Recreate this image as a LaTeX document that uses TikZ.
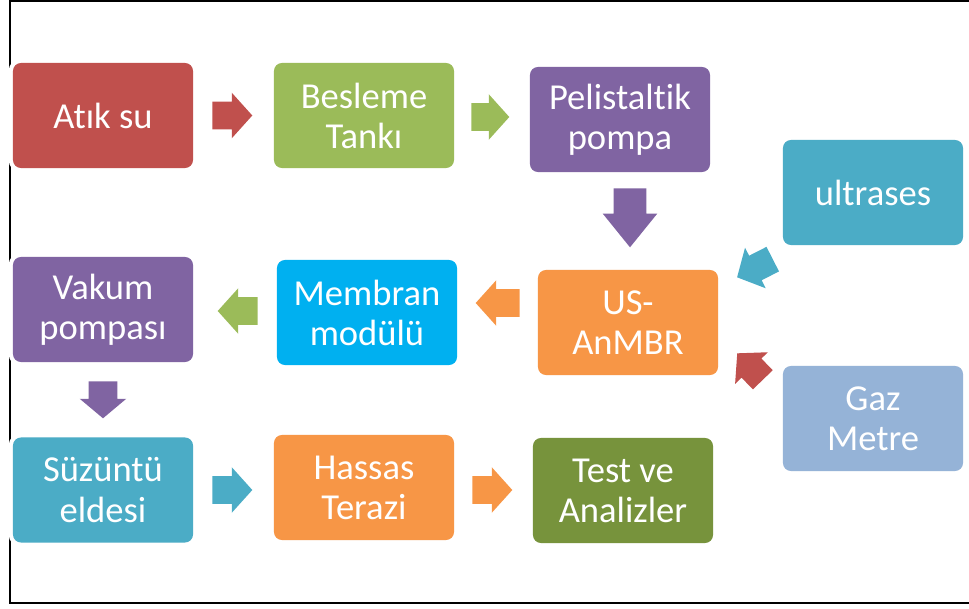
\documentclass[tikz,border=0pt]{standalone}
\usepackage{fontspec}
\setmainfont{Carlito}[Ligatures=NoCommon]
\usetikzlibrary{shapes.arrows}
\definecolor{cred}{HTML}{C0504D}
\definecolor{cgreen}{HTML}{9BBB59}
\definecolor{cpurple}{HTML}{8064A2}
\definecolor{cteal}{HTML}{4BACC6}
\definecolor{corange}{HTML}{F79646}
\definecolor{ccyan}{HTML}{00B0F0}
\definecolor{cblue}{HTML}{95B3D7}
\definecolor{colive}{HTML}{77933C}
\begin{document}
\begin{tikzpicture}[x=0.025cm, y=-0.025cm,
            box/.style={rectangle, rounded corners=0.2cm, minimum width=4.5cm, minimum height=2.625cm,
                inner sep=0pt, outer sep=0pt, align=center, text=white,
                font=\fontsize{26}{28.5}\selectfont,
                preaction={draw=white, line width=6pt}},
            blockarrow/.style={single arrow, anchor=tail, minimum height=1cm, inner xsep=0pt, inner ysep=0.3375cm,
                single arrow head extend=0.225cm, single arrow tip angle=96}
            ]
            \useasboundingbox (0,0) rectangle (969,608);
            \draw[line width=1.4pt] (969,1) -- (10,1) -- (10,603) -- (969,603);

            \node[box, fill=cred] (atik) at (103,115.5) {Atık su};
            \node[box, fill=cgreen] (besleme) at (364,115.5) {Besleme\\Tankı};
            \node[box, fill=cpurple] (pompa) at (620,119.5) {Pelistaltik\\pompa};
            \node[box, fill=cteal] (ultrases) at (873,192.5) {ultrases};
            \node[box, fill=corange] (usanmbr) at (628,322.5) {US-\\AnMBR};
            \node[box, fill=ccyan] (membran) at (367,312.5) {Membran\\modülü};
            \node[box, fill=cpurple] (vakum) at (103,309.5) {Vakum\\pompası};
            \node[box, fill=cblue] (gaz) at (873,418.5) {Gaz\\Metre};
            \node[box, fill=cteal] (suzuntu) at (103,490) {Süzüntü\\eldesi};
            \node[box, fill=corange] (terazi) at (364,487.5) {Hassas\\Terazi};
            \node[box, fill=colive] (test) at (623,490.5) {Test ve\\Analizler};

            % block arrows, placed by their tail
            \node[blockarrow, fill=cred] (a1) at (212,115.5) {};
            \node[blockarrow, fill=cgreen, minimum height=0.95cm] (a2) at (471,117) {};
            \node[blockarrow, fill=cpurple, rotate=-90, minimum height=1.475cm, inner ysep=0.4cm,
                single arrow head extend=0.275cm, single arrow tip angle=78] (a3) at (630,188) {};
            \node[blockarrow, fill=cteal, rotate=207] (a4) at (773,259) {};
            \node[blockarrow, fill=cred, rotate=134, minimum height=0.92cm] (a5) at (763,380) {};
            \node[blockarrow, fill=corange, rotate=180, minimum height=1.1cm] (a6) at (520,303) {};
            \node[blockarrow, fill=cgreen, rotate=180] (a7) at (258,311) {};
            \node[blockarrow, fill=cpurple, rotate=-90, minimum height=0.925cm, inner ysep=0.35cm,
                single arrow head extend=0.225cm, single arrow tip angle=100] (a8) at (103,381) {};
            \node[blockarrow, fill=cteal] (a9) at (212,490) {};
            \node[blockarrow, fill=corange] (a10) at (472,490) {};

            \end{tikzpicture}
\end{document}
